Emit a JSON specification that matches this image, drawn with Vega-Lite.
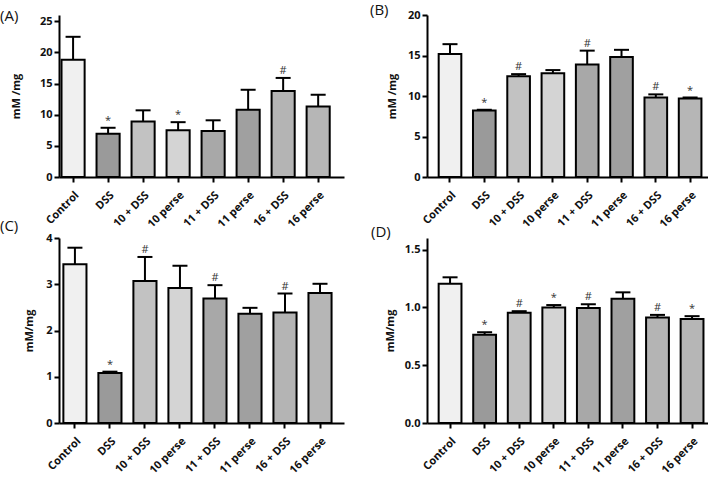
{
  "$schema": "https://vega.github.io/schema/vega-lite/v6.json",
  "padding": {"top": 3, "left": 0, "right": 0, "bottom": 0},
  "background": "white",
  "datasets": {
    "d": [
      {"panel": "A", "group": "Control", "value": 18.8, "upper": 22.5, "sig": ""},
      {"panel": "A", "group": "DSS", "value": 6.95, "upper": 7.9, "sig": "*"},
      {"panel": "A", "group": "10 + DSS", "value": 8.9, "upper": 10.7, "sig": ""},
      {"panel": "A", "group": "10 perse", "value": 7.5, "upper": 8.8, "sig": "*"},
      {"panel": "A", "group": "11 + DSS", "value": 7.4, "upper": 9.1, "sig": ""},
      {"panel": "A", "group": "11 perse", "value": 10.8, "upper": 14.0, "sig": ""},
      {"panel": "A", "group": "16 + DSS", "value": 13.8, "upper": 15.9, "sig": "#"},
      {"panel": "A", "group": "16 perse", "value": 11.3, "upper": 13.2, "sig": ""},
      {"panel": "B", "group": "Control", "value": 15.2, "upper": 16.4, "sig": ""},
      {"panel": "B", "group": "DSS", "value": 8.2, "upper": 8.3, "sig": "*"},
      {"panel": "B", "group": "10 + DSS", "value": 12.45, "upper": 12.7, "sig": "#"},
      {"panel": "B", "group": "10 perse", "value": 12.8, "upper": 13.2, "sig": ""},
      {"panel": "B", "group": "11 + DSS", "value": 13.9, "upper": 15.6, "sig": "#"},
      {"panel": "B", "group": "11 perse", "value": 14.8, "upper": 15.7, "sig": ""},
      {"panel": "B", "group": "16 + DSS", "value": 9.8, "upper": 10.2, "sig": "#"},
      {"panel": "B", "group": "16 perse", "value": 9.7, "upper": 9.8, "sig": "*"},
      {"panel": "C", "group": "Control", "value": 3.43, "upper": 3.79, "sig": ""},
      {"panel": "C", "group": "DSS", "value": 1.08, "upper": 1.11, "sig": "*"},
      {"panel": "C", "group": "10 + DSS", "value": 3.07, "upper": 3.59, "sig": "#"},
      {"panel": "C", "group": "10 perse", "value": 2.92, "upper": 3.4, "sig": ""},
      {"panel": "C", "group": "11 + DSS", "value": 2.69, "upper": 2.98, "sig": "#"},
      {"panel": "C", "group": "11 perse", "value": 2.36, "upper": 2.49, "sig": ""},
      {"panel": "C", "group": "16 + DSS", "value": 2.39, "upper": 2.8, "sig": "#"},
      {"panel": "C", "group": "16 perse", "value": 2.81, "upper": 3.01, "sig": ""},
      {"panel": "D", "group": "Control", "value": 1.204, "upper": 1.26, "sig": ""},
      {"panel": "D", "group": "DSS", "value": 0.763, "upper": 0.785, "sig": "*"},
      {"panel": "D", "group": "10 + DSS", "value": 0.954, "upper": 0.967, "sig": "#"},
      {"panel": "D", "group": "10 perse", "value": 1.0, "upper": 1.02, "sig": "*"},
      {"panel": "D", "group": "11 + DSS", "value": 0.995, "upper": 1.027, "sig": "#"},
      {"panel": "D", "group": "11 perse", "value": 1.074, "upper": 1.13, "sig": ""},
      {"panel": "D", "group": "16 + DSS", "value": 0.913, "upper": 0.935, "sig": "#"},
      {"panel": "D", "group": "16 perse", "value": 0.9, "upper": 0.924, "sig": "*"}
    ]
  },
  "columns": 2,
  "bounds": "flush",
  "spacing": {"row": 61, "column": 83},
  "concat": [
    {
      "title": {"text": "(A)", "anchor": "start", "frame": "group", "dx": -59, "offset": -9},
      "width": 285, "height": 162,
      "data": {"name": "d"},
      "transform": [{"filter": "datum.panel == 'A'"}],
      "encoding": {"x": {"field": "group", "type": "nominal", "sort": null, "scale": {"paddingInner": 0.34, "paddingOuter": 0.24, "align": 0.15}, "axis": {"title": null, "labelAngle": -45}}},
      "layer": [
        {"mark": {"type": "bar", "stroke": "black", "strokeWidth": 2}, "encoding": {"y": {"field": "value", "type": "quantitative", "scale": {"domain": [0, 25]}, "axis": {"title": "mM /mg", "values": [0, 5, 10, 15, 20, 25], "titlePadding": 18}}, "fill": {"field": "group", "type": "nominal", "sort": null, "scale": {"domain": ["Control", "DSS", "10 + DSS", "10 perse", "11 + DSS", "11 perse", "16 + DSS", "16 perse"], "range": ["#f0f0f0", "#9a9a9a", "#c2c2c2", "#d4d4d4", "#a8a8a8", "#a0a0a0", "#b4b4b4", "#b6b6b6"]}, "legend": null}}},
        {"mark": {"type": "rule", "strokeWidth": 2, "color": "black"}, "encoding": {"y": {"field": "value", "type": "quantitative", "axis": {"title": "mM /mg", "values": [0, 5, 10, 15, 20, 25], "titlePadding": 18}}, "y2": {"field": "upper"}}},
        {"mark": {"type": "tick", "thickness": 2, "size": 15, "color": "black", "opacity": 1}, "encoding": {"y": {"field": "upper", "type": "quantitative", "axis": {"title": "mM /mg", "values": [0, 5, 10, 15, 20, 25], "titlePadding": 18}}}},
        {"mark": {"type": "text", "baseline": "bottom", "dy": -2, "fontSize": 11, "color": "#333"}, "encoding": {"y": {"field": "upper", "type": "quantitative", "axis": {"title": "mM /mg", "values": [0, 5, 10, 15, 20, 25], "titlePadding": 18}}, "text": {"field": "sig"}}}
      ]
    },
    {
      "title": {"text": "(B)", "anchor": "start", "frame": "group", "dx": -57, "offset": -9},
      "width": 281, "height": 162,
      "data": {"name": "d"},
      "transform": [{"filter": "datum.panel == 'B'"}],
      "encoding": {"x": {"field": "group", "type": "nominal", "sort": null, "scale": {"paddingInner": 0.34, "paddingOuter": 0.266, "align": 0.64}, "axis": {"title": null, "labelAngle": -45}}},
      "layer": [
        {"mark": {"type": "bar", "stroke": "black", "strokeWidth": 2}, "encoding": {"y": {"field": "value", "type": "quantitative", "scale": {"domain": [0, 20]}, "axis": {"title": "mM /mg", "values": [0, 5, 10, 15, 20], "titlePadding": 10}}, "fill": {"field": "group", "type": "nominal", "sort": null, "legend": null}}},
        {"mark": {"type": "rule", "strokeWidth": 2, "color": "black"}, "encoding": {"y": {"field": "value", "type": "quantitative", "axis": {"title": "mM /mg", "values": [0, 5, 10, 15, 20], "titlePadding": 10}}, "y2": {"field": "upper"}}},
        {"mark": {"type": "tick", "thickness": 2, "size": 15, "color": "black", "opacity": 1}, "encoding": {"y": {"field": "upper", "type": "quantitative", "axis": {"title": "mM /mg", "values": [0, 5, 10, 15, 20], "titlePadding": 10}}}},
        {"mark": {"type": "text", "baseline": "bottom", "dy": -2, "fontSize": 11, "color": "#333"}, "encoding": {"y": {"field": "upper", "type": "quantitative", "axis": {"title": "mM /mg", "values": [0, 5, 10, 15, 20], "titlePadding": 10}}, "text": {"field": "sig"}}}
      ]
    },
    {
      "title": {"text": "(C)", "anchor": "start", "frame": "group", "dx": -59, "offset": -2},
      "width": 285, "height": 185,
      "data": {"name": "d"},
      "transform": [{"filter": "datum.panel == 'C'"}],
      "encoding": {"x": {"field": "group", "type": "nominal", "sort": null, "scale": {"paddingInner": 0.34, "paddingOuter": 0.24, "align": 0.26}, "axis": {"title": null, "labelAngle": -45}}},
      "layer": [
        {"mark": {"type": "bar", "stroke": "black", "strokeWidth": 2}, "encoding": {"y": {"field": "value", "type": "quantitative", "scale": {"domain": [0, 4]}, "axis": {"title": "mM/mg", "values": [0, 1, 2, 3, 4], "titlePadding": 11}}, "fill": {"field": "group", "type": "nominal", "sort": null, "legend": null}}},
        {"mark": {"type": "rule", "strokeWidth": 2, "color": "black"}, "encoding": {"y": {"field": "value", "type": "quantitative", "axis": {"title": "mM/mg", "values": [0, 1, 2, 3, 4], "titlePadding": 11}}, "y2": {"field": "upper"}}},
        {"mark": {"type": "tick", "thickness": 2, "size": 15, "color": "black", "opacity": 1}, "encoding": {"y": {"field": "upper", "type": "quantitative", "axis": {"title": "mM/mg", "values": [0, 1, 2, 3, 4], "titlePadding": 11}}}},
        {"mark": {"type": "text", "baseline": "bottom", "dy": -2, "fontSize": 11, "color": "#333"}, "encoding": {"y": {"field": "upper", "type": "quantitative", "axis": {"title": "mM/mg", "values": [0, 1, 2, 3, 4], "titlePadding": 11}}, "text": {"field": "sig"}}}
      ]
    },
    {
      "title": {"text": "(D)", "anchor": "start", "frame": "group", "dx": -56, "offset": -2},
      "width": 281, "height": 185,
      "data": {"name": "d"},
      "transform": [{"filter": "datum.panel == 'D'"}],
      "encoding": {"x": {"field": "group", "type": "nominal", "sort": null, "scale": {"paddingInner": 0.34, "paddingOuter": 0.234, "align": 0.72}, "axis": {"title": null, "labelAngle": -45}}},
      "layer": [
        {"mark": {"type": "bar", "stroke": "black", "strokeWidth": 2}, "encoding": {"y": {"field": "value", "type": "quantitative", "scale": {"domain": [0, 1.5]}, "axis": {"title": "mM/mg", "values": [0, 0.5, 1, 1.5], "format": ".1f", "titlePadding": 9}}, "fill": {"field": "group", "type": "nominal", "sort": null, "legend": null}}},
        {"mark": {"type": "rule", "strokeWidth": 2, "color": "black"}, "encoding": {"y": {"field": "value", "type": "quantitative", "axis": {"title": "mM/mg", "values": [0, 0.5, 1, 1.5], "format": ".1f", "titlePadding": 9}}, "y2": {"field": "upper"}}},
        {"mark": {"type": "tick", "thickness": 2, "size": 15, "color": "black", "opacity": 1}, "encoding": {"y": {"field": "upper", "type": "quantitative", "axis": {"title": "mM/mg", "values": [0, 0.5, 1, 1.5], "format": ".1f", "titlePadding": 9}}}},
        {"mark": {"type": "text", "baseline": "bottom", "dy": -2, "fontSize": 11, "color": "#333"}, "encoding": {"y": {"field": "upper", "type": "quantitative", "axis": {"title": "mM/mg", "values": [0, 0.5, 1, 1.5], "format": ".1f", "titlePadding": 9}}, "text": {"field": "sig"}}}
      ]
    }
  ],
  "config": {
    "font": "Open Sans",
    "view": {"stroke": null},
    "title": {"fontSize": 15, "fontWeight": "normal", "color": "#111", "font": "Open Sans"},
    "axis": {
      "grid": false,
      "domainColor": "black",
      "domainWidth": 2,
      "tickColor": "black",
      "tickWidth": 2,
      "tickSize": 5,
      "labelFont": "Open Sans",
      "labelFontWeight": "bold",
      "labelFontSize": 11,
      "labelColor": "#111",
      "labelPadding": 2,
      "titleFont": "Open Sans",
      "titleFontWeight": "bold",
      "titleFontSize": 11,
      "titleColor": "#111"
    },
    "axisX": {"labelFontSize": 11, "labelPadding": 7}
  }
}
